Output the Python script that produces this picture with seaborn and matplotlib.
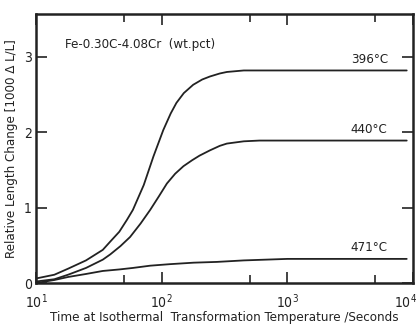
import matplotlib
matplotlib.use('Agg')

import pandas as pd
import numpy as np
import matplotlib.pyplot as plt
import matplotlib.ticker as mticker
import matplotlib.transforms as mtransforms
import seaborn as sns

# --- data ---
t_396 = [10, 14, 18, 25, 34, 39, 46, 53, 59, 72, 86, 103, 118, 131, 150, 178, 210, 242, 290, 330, 450, 600, 1000, 3000, 8900]
v_396 = [0.06, 0.11, 0.19, 0.30, 0.44, 0.55, 0.68, 0.84, 0.97, 1.30, 1.68, 2.03, 2.25, 2.39, 2.52, 2.63, 2.70, 2.74, 2.78, 2.80, 2.82, 2.82, 2.82, 2.82, 2.82]

t_440 = [10, 14, 18, 25, 34, 39, 47, 56, 68, 81, 95, 110, 128, 149, 175, 200, 242, 290, 330, 450, 600, 1000, 3000, 8900]
v_440 = [0.02, 0.05, 0.11, 0.20, 0.31, 0.38, 0.49, 0.61, 0.79, 0.97, 1.15, 1.32, 1.45, 1.55, 1.63, 1.69, 1.76, 1.82, 1.85, 1.88, 1.89, 1.89, 1.89, 1.89]

t_471 = [10, 14, 18, 25, 34, 46, 59, 81, 116, 180, 275, 450, 1000, 3000, 8900]
v_471 = [0.0, 0.04, 0.08, 0.12, 0.16, 0.18, 0.20, 0.23, 0.25, 0.27, 0.28, 0.30, 0.32, 0.32, 0.32]

temps = ['396°C', '440°C', '471°C']
x_ticks = [10, 100, 1000, 10000]
x_minor = [50, 500, 5000]
y_ticks = [0, 1, 2, 3]

df = pd.concat([
    pd.DataFrame({'time': t_396, 'change': v_396, 'temp': temps[0]}),
    pd.DataFrame({'time': t_440, 'change': v_440, 'temp': temps[1]}),
    pd.DataFrame({'time': t_471, 'change': v_471, 'temp': temps[2]}),
])

# --- style ---
sns.set_style('ticks')
plt.rcParams['font.family'] = ['DejaVu Sans']
plt.rcParams['font.stretch'] = 'condensed'
plt.rcParams['mathtext.fontset'] = 'dejavusans'

ink = '#222222'
fig = plt.figure(figsize=(4.16, 3.24), dpi=100)
ax = fig.add_axes([0.0865, 0.1265, 0.9065, 0.8305])

sns.lineplot(data=df, x='time', y='change', hue='temp', palette=[ink] * 3,
             legend=False, linewidth=1.3, ax=ax, estimator=None, sort=False)

ax.set_xscale('log')
ax.set_xlim(10, 10000)
ax.set_ylim(0, 3.57)
ax.set_xticks(x_ticks)
ax.xaxis.set_major_formatter(mticker.FixedFormatter([f'$10^{{{i}}}$' for i in range(1, 5)]))
ax.xaxis.set_minor_locator(mticker.FixedLocator(x_minor))
ax.xaxis.set_minor_formatter(mticker.NullFormatter())
ax.set_yticks(y_ticks)

ax.tick_params(axis='both', which='major', direction='in', length=8, width=1.2,
               top=True, right=True, labelsize=10, colors=ink)
ax.tick_params(axis='x', which='minor', direction='in', length=6, width=1.2, top=True)
ax.tick_params(axis='x', which='major', pad=7)
ax.tick_params(axis='y', which='major', pad=3)
for sp in ax.spines.values():
    sp.set_linewidth(1.8)
    sp.set_color(ink)

# pull the last x label in so it stays on the canvas
last = ax.get_xticklabels()[-1]
last.set_transform(last.get_transform() + mtransforms.ScaledTranslation(-8 / 100, 0, fig.dpi_scale_trans))

ax.set_xlabel('Time at Isothermal  Transformation Temperature /Seconds', fontsize=9.5, labelpad=0, color=ink)
ax.set_ylabel('Relative Length Change [1000 Δ L/L]', fontsize=9.5, labelpad=4, color=ink)

# curve labels
label_y = [2.88, 1.95, 0.38]
for name, yv in zip(temps, label_y):
    ax.text(3200, yv, name, fontsize=9.5, color=ink, ha='left', va='bottom')

ax.text(17, 3.16, 'Fe-0.30C-4.08Cr  (wt.pct)', fontsize=9.5, color=ink, va='center')

plt.savefig('out.png', dpi=100, facecolor='white')
